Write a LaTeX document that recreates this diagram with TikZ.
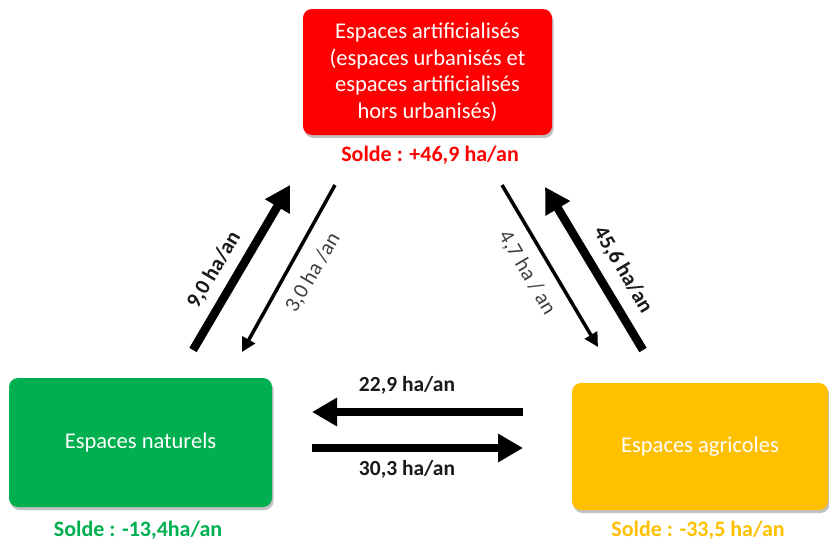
\documentclass[tikz,border=0pt]{standalone}
\usepackage{fontspec}
\setmainfont{Carlito}
\usetikzlibrary{arrows.meta,shadows}
\definecolor{cred}{HTML}{FF0000}
\definecolor{cgreen}{HTML}{00B050}
\definecolor{cyellow}{HTML}{FFC000}
\definecolor{cgray}{HTML}{404040}
\begin{document}
\begin{tikzpicture}[x=1pt,y=-1pt,
  box/.style={rounded corners=9pt, inner sep=0pt, text=white, align=center,
    font=\fontsize{22.5}{26.5}\selectfont,
    drop shadow={shadow xshift=1.5pt, shadow yshift=-3pt, opacity=0.4, fill=black!60}},
  solde/.style={font=\fontsize{22}{24}\selectfont\bfseries},
  biglabel/.style={font=\fontsize{21.5}{24}\selectfont\bfseries, text=black!90},
  smalllabel/.style={font=\fontsize{21.5}{24}\selectfont, text=cgray},
  thick arrow/.style={line width=8.5pt, -{Triangle[length=25pt,width=27pt]}},
  thin arrow/.style={line width=3.5pt, -{Triangle[length=14pt,width=14pt]}}]
\useasboundingbox (0,0) rectangle (829,541);
\fill[white] (0,0) rectangle (829,541);

\node[box, fill=cred, minimum width=249pt, minimum height=126pt] (art) at (427.5,72)
  {Espaces artificialisés\\(espaces urbanisés et\\espaces artificialisés\\hors urbanisés)};
\node[box, fill=cgreen, minimum width=263pt, minimum height=129pt] (nat) at (140.5,442.5)
  {Espaces naturels};
\node[box, fill=cyellow, minimum width=256pt, minimum height=127pt] (agr) at (700,446.5)
  {Espaces agricoles};

\node[solde, text=cred] (sart) at (430,155) {Solde : +46,9 ha/an};
\node[solde, text=cgreen] (snat) at (138,530) {Solde : -13,4ha/an};
\node[solde, text=cyellow] (sagr) at (698,530) {Solde : -33,5 ha/an};

\coordinate (a1s) at (193,350); \coordinate (a1e) at (290,185);
\coordinate (a2s) at (335,185); \coordinate (a2e) at (242,352);
\coordinate (a3s) at (502,185); \coordinate (a3e) at (598,347);
\coordinate (a4s) at (643,350); \coordinate (a4e) at (545,187);
\coordinate (a5s) at (523,412); \coordinate (a5e) at (312,412);
\coordinate (a6s) at (312,448); \coordinate (a6e) at (523,448);

\draw[thick arrow] (a1s) -- (a1e);
\draw[thin arrow] (a2s) -- (a2e);
\draw[thin arrow] (a3s) -- (a3e);
\draw[thick arrow] (a4s) -- (a4e);
\draw[thick arrow] (a5s) -- (a5e);
\draw[thick arrow] (a6s) -- (a6e);

\node[biglabel, rotate=59.5] (l1) at (214,270) {9,0 ha/an};
\node[smalllabel, rotate=59.5] (l2) at (313,273) {3,0 ha /an};
\node[smalllabel, rotate=-59.5] (l3) at (527,273) {4,7 ha / an};
\node[biglabel, rotate=-59.5] (l4) at (623,270) {45,6 ha/an};
\node[biglabel] (l5) at (407,385) {22,9 ha/an};
\node[biglabel] (l6) at (407,469) {30,3 ha/an};
\end{tikzpicture}
\end{document}
